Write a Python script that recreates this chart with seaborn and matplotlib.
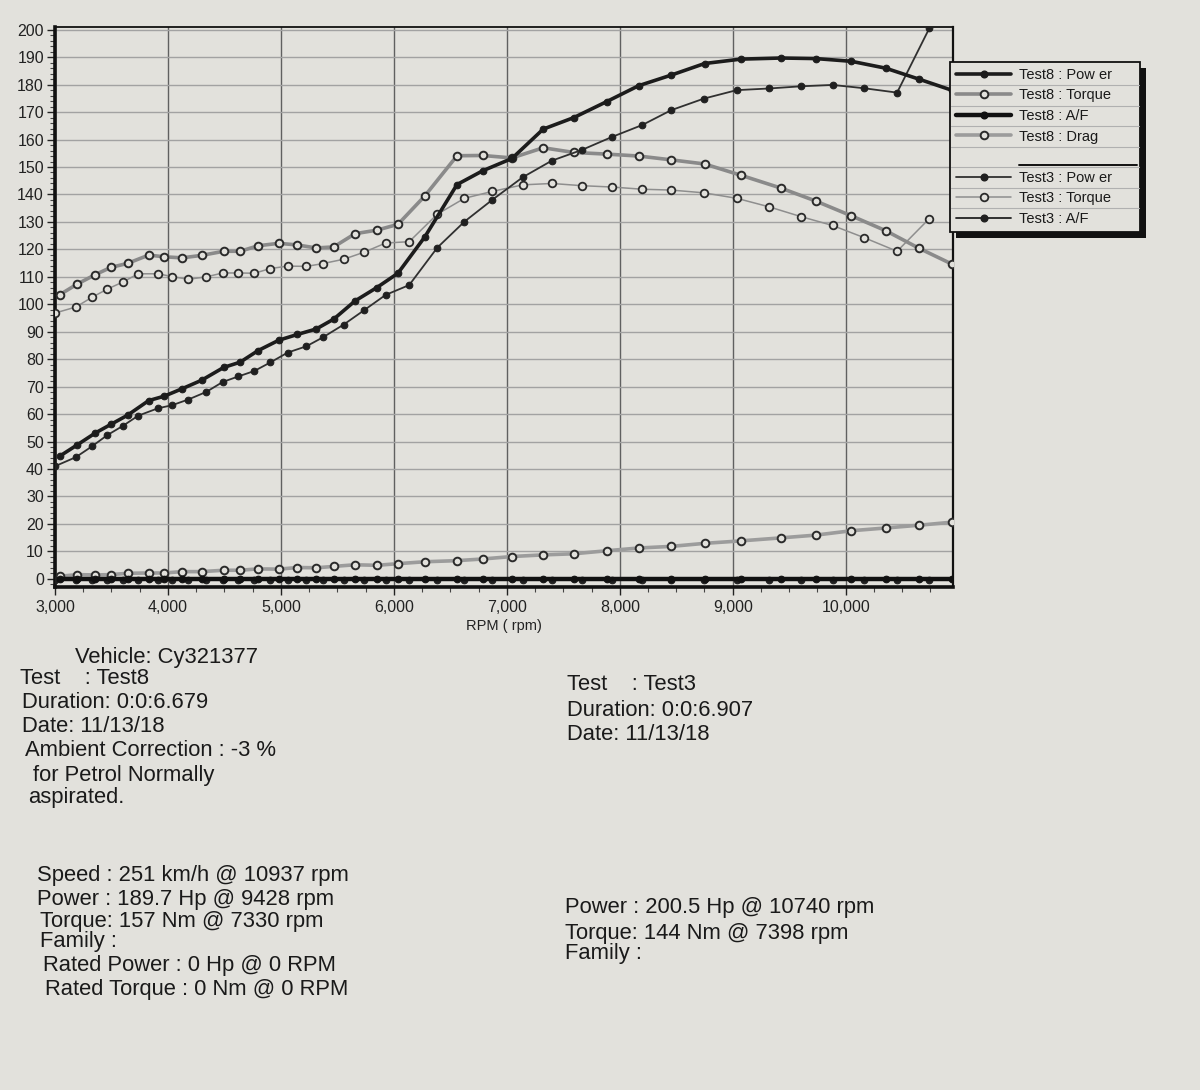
import matplotlib
matplotlib.use("Agg")
import matplotlib.pyplot as plt
import seaborn as sns
import pandas as pd
from matplotlib.lines import Line2D
from matplotlib.patches import Rectangle
from matplotlib.ticker import MultipleLocator, FuncFormatter

# ---------------- data (read from the dyno sheet) ----------------
rpm8 = [3043, 3194, 3357, 3493, 3643, 3829, 3966, 4124, 4297, 4494, 4639, 4797,
        4981, 5146, 5313, 5468, 5656, 5850, 6036, 6275, 6559, 6785, 7045, 7322,
        7593, 7883, 8166, 8457, 8751, 9072, 9428, 9735, 10051, 10354, 10649, 10937]
power8 = [44.7, 48.7, 53.1, 56.2, 59.6, 64.9, 66.5, 69.2, 72.3, 77.0, 78.9, 83.1,
          86.9, 89.0, 91.0, 94.6, 101.2, 106.1, 111.3, 124.6, 143.6, 148.6, 153.1, 163.8,
          168.0, 173.8, 179.6, 183.5, 187.7, 189.3, 189.7, 189.5, 188.5, 186.0, 182.0, 178.0]
torque8 = [103.5, 107.3, 110.8, 113.4, 114.9, 117.9, 117.3, 116.9, 117.8, 119.3, 119.3, 121.3,
           122.2, 121.6, 120.5, 120.9, 125.7, 127.0, 129.1, 139.5, 154.1, 154.2, 153.3, 157.0,
           155.3, 154.7, 154.0, 152.6, 151.1, 147.0, 142.3, 137.6, 132.2, 126.8, 120.4, 114.7]
af8 = [0.0, 0.0, 0.0, 0.0, 0.0, 0.0, 0.0, 0.0, 0.0, 0.0, 0.0, 0.0,
       0.0, 0.0, 0.0, 0.0, 0.0, 0.0, 0.0, 0.0, 0.0, 0.0, 0.0, 0.0,
       0.0, 0.0, 0.0, 0.0, 0.0, 0.0, 0.0, 0.0, 0.0, 0.0, 0.0, 0.0]
drag8 = [0.9, 1.5, 1.4, 1.5, 2.0, 2.1, 2.1, 2.6, 2.6, 3.1, 3.1, 3.6,
         3.5, 4.1, 4.0, 4.5, 5.1, 4.9, 5.5, 6.2, 6.6, 7.2, 8.1, 8.7,
         9.1, 10.2, 11.2, 11.8, 12.9, 13.8, 14.9, 15.9, 17.5, 18.5, 19.5, 20.6]

rpm3 = [3000, 3185, 3326, 3462, 3601, 3736, 3911, 4035, 4180, 4341, 4485, 4623,
        4765, 4906, 5060, 5226, 5370, 5556, 5739, 5927, 6136, 6384, 6625, 6870,
        7142, 7398, 7663, 7934, 8199, 8455, 8743, 9035, 9321, 9606, 9884, 10161,
        10455, 10740]
power3 = [41.0, 44.3, 48.2, 52.3, 55.7, 59.4, 62.1, 63.2, 65.3, 68.1, 71.7, 73.7,
          75.7, 78.8, 82.4, 84.7, 87.9, 92.6, 97.9, 103.4, 107.0, 120.6, 130.1, 138.0,
          146.3, 152.3, 156.2, 161.0, 165.3, 170.7, 174.9, 178.0, 178.6, 179.4, 179.9, 178.7,
          177.1, 200.5]
torque3 = [96.8, 99.0, 102.5, 105.5, 108.1, 111.1, 111.1, 110.1, 109.1, 110.0, 111.4, 111.4,
           111.3, 113.0, 113.9, 113.8, 114.8, 116.4, 119.0, 122.3, 122.8, 132.8, 138.6, 141.1,
           143.5, 144.0, 143.2, 142.7, 141.9, 141.6, 140.6, 138.6, 135.5, 131.9, 128.7, 124.3,
           119.3, 131.2]
af3 = [-0.6, -0.6, -0.6, -0.6, -0.6, -0.6, -0.6, -0.6, -0.6, -0.6, -0.6, -0.6,
       -0.6, -0.6, -0.6, -0.6, -0.6, -0.6, -0.6, -0.6, -0.6, -0.6, -0.6, -0.6,
       -0.6, -0.6, -0.6, -0.6, -0.6, -0.6, -0.6, -0.6, -0.6, -0.6, -0.6, -0.6,
       -0.6, -0.6]

legend_labels = ["Test8 : Pow er", "Test8 : Torque", "Test8 : A/F", "Test8 : Drag", " ",
                 "Test3 : Pow er", "Test3 : Torque", "Test3 : A/F"]

df8 = pd.DataFrame({"rpm": rpm8, "power": power8, "torque": torque8, "af": af8, "drag": drag8})
df3 = pd.DataFrame({"rpm": rpm3, "power": power3, "torque": torque3, "af": af3})

# ---------------- style ----------------
PAPER = "#e2e1dc"
sns.set_theme(style="ticks")
plt.rcParams["font.family"] = ["Liberation Sans", "DejaVu Sans"]

W, H = 1200, 1090
fig = plt.figure(figsize=(W / 100, H / 100), dpi=100, facecolor=PAPER)
ax = fig.add_axes([55 / W, 1 - 587 / H, 898 / W, 560 / H])
ax.set_facecolor(PAPER)

styles = {
    "p8": dict(color="#1c1c1c", lw=2.6, marker="o", ms=4.8, mfc="#1c1c1c", mec="#1c1c1c"),
    "t8": dict(color="#8a8a8a", lw=2.6, marker="o", ms=5.5, mfc=PAPER, mec="#2a2a2a", mew=1.4),
    "a8": dict(color="#111111", lw=3.2, marker="o", ms=4.8, mfc="#111111", mec="#111111"),
    "d8": dict(color="#9c9c9c", lw=2.6, marker="o", ms=5.5, mfc=PAPER, mec="#2a2a2a", mew=1.4),
    "p3": dict(color="#303030", lw=1.3, marker="o", ms=4.8, mfc="#202020", mec="#202020"),
    "t3": dict(color="#8e8e8e", lw=1.1, marker="o", ms=5.5, mfc=PAPER, mec="#2a2a2a", mew=1.3),
    "a3": dict(color="#222222", lw=1.3, marker="o", ms=4.8, mfc="#202020", mec="#202020"),
}

sns.lineplot(data=df8, x="rpm", y="drag", ax=ax, estimator=None, sort=False, zorder=3, **styles["d8"])
sns.lineplot(data=df3, x="rpm", y="af", ax=ax, estimator=None, sort=False, zorder=3, **styles["a3"])
sns.lineplot(data=df8, x="rpm", y="af", ax=ax, estimator=None, sort=False, zorder=3, **styles["a8"])
sns.lineplot(data=df3, x="rpm", y="torque", ax=ax, estimator=None, sort=False, zorder=3, **styles["t3"])
sns.lineplot(data=df8, x="rpm", y="torque", ax=ax, estimator=None, sort=False, zorder=3, **styles["t8"])
sns.lineplot(data=df3, x="rpm", y="power", ax=ax, estimator=None, sort=False, zorder=4, **styles["p3"])
sns.lineplot(data=df8, x="rpm", y="power", ax=ax, estimator=None, sort=False, zorder=4, **styles["p8"])

ax.set_xlim(3000, 10950)
ax.set_ylim(-3, 201)
ax.yaxis.set_major_locator(MultipleLocator(10))
ax.yaxis.set_minor_locator(MultipleLocator(2))
ax.xaxis.set_major_locator(MultipleLocator(1000))
ax.xaxis.set_minor_locator(MultipleLocator(250))
ax.xaxis.set_major_formatter(FuncFormatter(lambda v, p: f"{int(v):,}"))
ax.yaxis.set_major_formatter(FuncFormatter(lambda v, p: f"{int(v)}"))
ax.tick_params(axis="y", which="major", length=6, width=1, labelsize=11.5, pad=2, colors="#222")
ax.tick_params(axis="y", which="minor", length=3.5, width=0.8, colors="#444")
ax.tick_params(axis="x", which="major", length=6, width=1, labelsize=11.5, pad=3, colors="#222")
ax.tick_params(axis="x", which="minor", length=3.5, width=0.8, colors="#444")
ax.grid(which="major", axis="y", color="#a2a2a2", lw=1.0)
ax.grid(which="major", axis="x", color="#606060", lw=1.0)
ax.set_axisbelow(True)
for side, lw in (("left", 2.6), ("bottom", 2.6), ("top", 1.3), ("right", 1.6)):
    ax.spines[side].set_visible(True)
    ax.spines[side].set_linewidth(lw)
    ax.spines[side].set_color("#111111")
ax.set_xlabel("RPM ( rpm)", fontsize=10.5, labelpad=3, color="#222")
ax.set_ylabel("")

# ---------------- legend ----------------
order = ["p8", "t8", "a8", "d8", None, "p3", "t3", "a3"]
handles = []
for key in order:
    if key is None:
        handles.append(Line2D([], [], color="none"))
    else:
        handles.append(Line2D([], [], **styles[key]))
leg = ax.legend(handles, legend_labels, loc="upper left",
                bbox_to_anchor=(950 / W, 1 - 230 / H, 190 / W, 168 / H),
                bbox_transform=fig.transFigure, mode="expand", borderaxespad=0,
                frameon=True, fancybox=False, edgecolor="#111111", facecolor=PAPER,
                framealpha=1, fontsize=10.5, handlelength=3.8, handletextpad=0.5,
                labelspacing=0.45, borderpad=0.4)
leg.get_frame().set_linewidth(1.3)
for t in leg.get_texts():
    t.set_color("#1a1a1a")

fig.canvas.draw()
r = fig.canvas.get_renderer()
lb = leg.get_window_extent(r)
# shadow
fig.add_artist(Rectangle(((lb.x0 + 6) / W, (lb.y0 - 6) / H), lb.width / W, lb.height / H,
                         transform=fig.transFigure, facecolor="#111111", edgecolor="none", zorder=-1))
ys = []
for t in leg.get_texts():
    b = t.get_window_extent(r)
    ys.append((b.y0 + b.y1) / 2)
tx0 = leg.get_texts()[0].get_window_extent(r).x0
for i in range(len(ys) - 1):
    ym = (ys[i] + ys[i + 1]) / 2
    fig.add_artist(Line2D([(lb.x0 + 1) / W, (lb.x1 - 1) / W], [ym / H, ym / H],
                          transform=fig.transFigure, color="#b0b0b0", lw=0.8, zorder=10))
ym = (ys[4] + ys[5]) / 2 + 2
fig.add_artist(Line2D([tx0 / W, (lb.x1 - 3) / W], [ym / H, ym / H],
                      transform=fig.transFigure, color="#111111", lw=1.4, zorder=11))

# ---------------- text blocks ----------------
def put(x, y, s, size=15.8):
    fig.text(x / W, 1 - y / H, s, fontsize=size, va="center", ha="left", color="#1a1a1a")

put(75, 657, "Vehicle: Cy321377")
put(20, 679, "Test    : Test8")
put(22, 703, "Duration: 0:0:6.679")
put(22, 727, "Date: 11/13/18")
put(25, 751, "Ambient Correction : -3 %")
put(33, 775, "for Petrol Normally")
put(28, 798, "aspirated.")

put(567, 685, "Test    : Test3")
put(567, 710, "Duration: 0:0:6.907")
put(567, 734, "Date: 11/13/18")

put(37, 876, "Speed : 251 km/h @ 10937 rpm")
put(37, 900, "Power : 189.7 Hp @ 9428 rpm")
put(40, 922, "Torque: 157 Nm @ 7330 rpm")
put(40, 942, "Family :")
put(43, 966, "Rated Power : 0 Hp @ 0 RPM")
put(45, 989, "Rated Torque : 0 Nm @ 0 RPM")

put(565, 907, "Power : 200.5 Hp @ 10740 rpm")
put(565, 933, "Torque: 144 Nm @ 7398 rpm")
put(565, 953, "Family :")

fig.savefig("out.png", dpi=100, facecolor=PAPER)
